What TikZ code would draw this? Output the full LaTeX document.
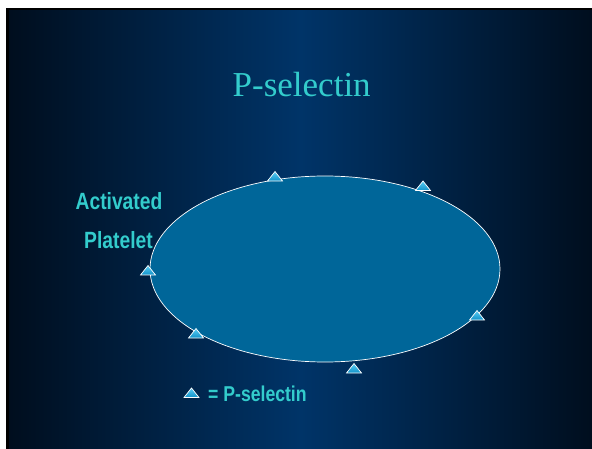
\documentclass[tikz,border=0pt]{standalone}
\usepackage{fontspec}
\setmainfont{Liberation Serif}
\newfontfamily\narrowsans[FakeStretch=0.82]{Liberation Sans}

\definecolor{slideedge}{RGB}{0,14,30}
\definecolor{slidemid}{RGB}{0,52,104}
\definecolor{cellblue}{RGB}{0,102,153}
\definecolor{tealtext}{RGB}{51,204,204}
\definecolor{markhi}{RGB}{90,205,245}
\definecolor{marklo}{RGB}{15,145,200}

\begin{document}
\begin{tikzpicture}[x=1pt,y=-1pt,
  marker/.style={draw=white, line width=0.7pt, top color=markhi, bottom color=marklo},
  lbl/.style={inner sep=0pt, text=tealtext, anchor=base,
    font=\narrowsans\bfseries\fontsize{23.5}{23.5}\selectfont},
  legendlbl/.style={inner sep=0pt, text=tealtext, anchor=base west,
    font=\narrowsans\bfseries\fontsize{21.5}{21.5}\selectfont},
  pics/psel/.style={code={\draw[marker] (-7.5,0) -- (0,-9.5) -- (7.5,0) -- cycle;}}]

\useasboundingbox (0,0) rectangle (592,449);
\fill[white] (0,0) rectangle (592,449);
% slide background
\fill[black] (6,8) rectangle (592,449);
\shade[left color=slideedge, right color=slideedge, middle color=slidemid]
  (9,11) rectangle (592,449);

% title
\node[inner sep=0pt, anchor=base, text=tealtext,
  font=\fontsize{35}{35}\selectfont] (title) at (301.7,96.7) {P-selectin};

% platelet body
\draw[white, line width=0.7pt, fill=cellblue]
  (325,269) ellipse [x radius=175pt, y radius=93pt];

% P-selectin markers on the surface
\pic at (275,181) {psel};
\pic at (423,190.5) {psel};
\pic at (148,275) {psel};
\pic at (196,338) {psel};
\pic at (354,373) {psel};
\pic at (477,320) {psel};

% labels
\node[lbl] (activated) at (119,209.3) {Activated};
\node[lbl] (platelet) at (118.5,249) {Platelet};

% legend
\pic at (191.5,397.5) {psel};
\node[legendlbl] (legend) at (208,401.7) {= P-selectin};
\end{tikzpicture}
\end{document}
